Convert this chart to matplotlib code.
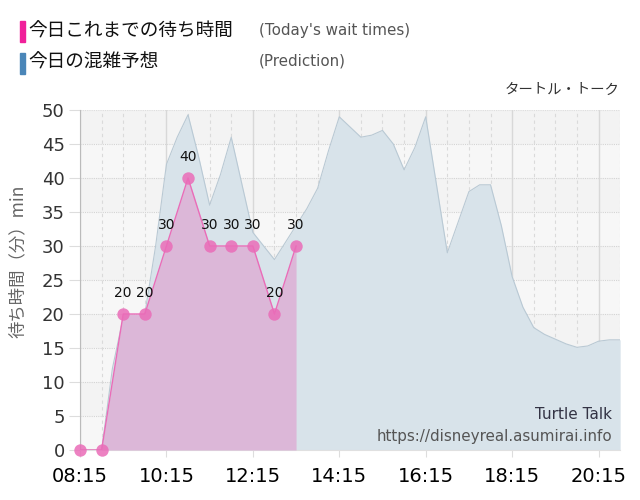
import matplotlib
matplotlib.use("Agg")
import matplotlib.pyplot as plt
import numpy as np

plt.rcParams['font.family'] = ['Noto Sans CJK JP', 'DejaVu Sans']

# 15-minute slots from 08:15
start_min = 8 * 60 + 15
tick_labels = ["08:15", "10:15", "12:15", "14:15", "16:15", "18:15", "20:15"]

# today's actual wait times (every 30 min)
actual_times = ["08:15", "08:45", "09:15", "09:45", "10:15", "10:45",
                "11:15", "11:45", "12:15", "12:45", "13:15"]
actual_vals = [0, 0, 20, 20, 30, 40, 30, 30, 30, 20, 30]

# predicted wait times (every 15 min, 08:15 - 20:45)
pred_vals = [0, 0, 0, 12, 19.5, 19.5, 20, 30, 42, 46, 49.3, 43, 36, 40.5,
             46, 39, 32, 30, 28, 30.5, 33, 35.5, 38.5, 44, 49, 47.5, 46,
             46.3, 47, 45, 41.2, 44.5, 49, 39, 29, 33.5, 38, 39, 39, 33,
             25.5, 21, 18, 17, 16.3, 15.6, 15.1, 15.3, 16, 16.2, 16.2]


def to_min(s):
    h, m = s.split(":")
    return int(h) * 60 + int(m)


pred_x = [start_min + 15 * i for i in range(len(pred_vals))]
act_x = [to_min(t) for t in actual_times]
tick_x = [to_min(t) for t in tick_labels]

fig = plt.figure(figsize=(6.4, 5), dpi=100)
ax = fig.add_axes([0.125, 0.1, 0.844, 0.68])

# striped background
for i in range(10):
    ax.axhspan(i * 5, i * 5 + 5, color='#f3f3f3' if i % 2 == 1 else '#f7f7f7',
               zorder=0, lw=0)

ax.fill_between(pred_x, pred_vals, color='#d8e3ea', zorder=2, lw=0)
ax.plot(pred_x, pred_vals, color='#b9c9d4', lw=0.8, zorder=2)

ax.fill_between(act_x, actual_vals, color='#dcb7d8', zorder=3, lw=0)
ax.plot(act_x, actual_vals, color='#ea6cb8', lw=1, zorder=4)
ax.scatter(act_x, actual_vals, s=80, color='#ea6cb8', alpha=0.85,
           zorder=5, clip_on=False, lw=0)
for x, v in zip(act_x, actual_vals):
    if v > 0:
        ax.text(x, v + 2, str(v), ha='center', va='bottom', fontsize=10,
                color='#111111', zorder=6, family='DejaVu Sans')

# grid
for y in range(5, 50, 5):
    ax.axhline(y, color='#d4d4d4', lw=0.8, ls=(0, (1, 1)), zorder=1)
ax.axhline(50, color='#dddddd', lw=0.8, ls=(0, (1, 1)), zorder=1)
for x in range(start_min, pred_x[-1] + 1, 30):
    if x in tick_x:
        ax.axvline(x, color='#d8d8d8', lw=1, zorder=1)
    else:
        ax.axvline(x, color='#dadada', lw=0.8, ls=(0, (3, 3)), zorder=1)

ax.set_xlim(start_min, pred_x[-1])
ax.set_ylim(0, 50)
ax.set_yticks(range(0, 51, 5))
ax.set_xticks(tick_x)
ax.set_xticklabels(tick_labels)
ax.tick_params(axis='y', labelsize=13, length=8, width=0.8, pad=3,
               color='#dddddd', labelcolor='#333333')
ax.tick_params(axis='x', labelsize=14, length=5, width=0.8, pad=7,
               color='#dddddd', labelcolor='#000000')
for lab in ax.get_xticklabels() + ax.get_yticklabels():
    lab.set_family('DejaVu Sans')
for s in ax.spines.values():
    s.set_visible(False)
ax.spines['left'].set_visible(True)
ax.spines['left'].set_color('#bbbbbb')
ax.spines['bottom'].set_visible(True)
ax.spines['bottom'].set_color('#e0e0e0')

ax.set_ylabel('待ち時間（分）min', fontsize=12.5, color='#666666')
ax.yaxis.set_label_coords(-0.098, 0.556)

ax.text(0.985, 0.103, 'Turtle Talk', transform=ax.transAxes, ha='right',
        va='center', fontsize=11, color='#333344', family='DejaVu Sans', zorder=7)
ax.text(0.985, 0.041, 'https://disneyreal.asumirai.info', transform=ax.transAxes,
        ha='right', va='center', fontsize=10.9, color='#555555',
        family='DejaVu Sans', zorder=7)

# legend-like header
fig.patches.append(plt.Rectangle((20 / 640, 1 - 42 / 500), 5 / 640, 21 / 500,
                                 transform=fig.transFigure, color='#f0209a'))
fig.patches.append(plt.Rectangle((20 / 640, 1 - 74 / 500), 5 / 640, 21 / 500,
                                 transform=fig.transFigure, color='#4a86b8'))
fig.text(28 / 640, 1 - 32 / 500, '今日これまでの待ち時間', fontsize=13.4,
         va='center', color='#111111')
fig.text(28 / 640, 1 - 63 / 500, '今日の混雑予想', fontsize=13.4,
         va='center', color='#111111')
fig.text(259 / 640, 1 - 31 / 500, "(Today's wait times)", fontsize=10.9,
         va='center', color='#555555', family='DejaVu Sans')
fig.text(259 / 640, 1 - 61 / 500, "(Prediction)", fontsize=10.9,
         va='center', color='#555555', family='DejaVu Sans')
fig.text(620 / 640, 1 - 90 / 500, 'タートル・トーク', fontsize=10.4,
         ha='right', va='center', color='#333333')

fig.savefig('out.png', dpi=100)
